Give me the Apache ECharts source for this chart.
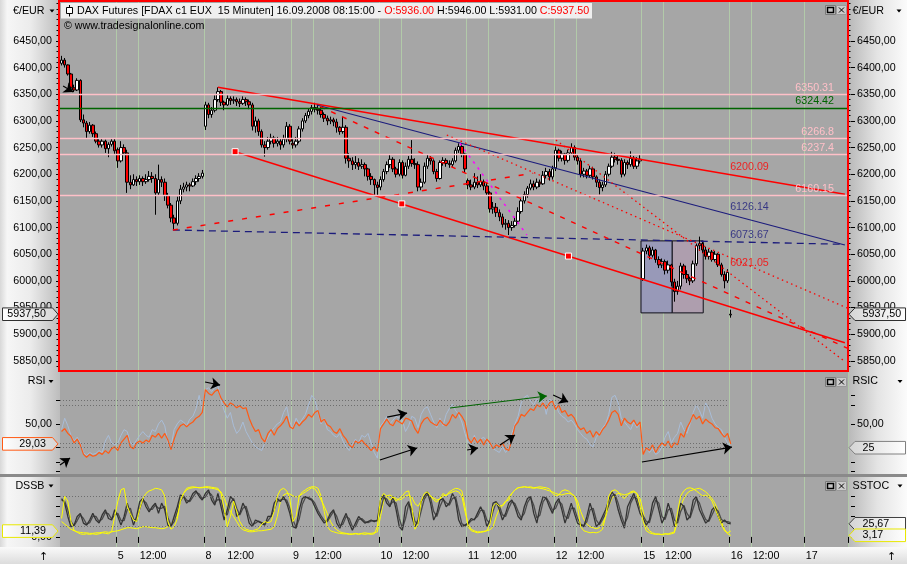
<!DOCTYPE html>
<html>
<head>
<meta charset="utf-8">
<title>DAX Futures FDAX 15 Minuten</title>
<script src="https://cdn.jsdelivr.net/npm/echarts@6.0.0/dist/echarts.min.js"></script>
<style>
html,body{margin:0;padding:0;background:#ffffff;overflow:hidden;}
#chart{width:907px;height:564px;}
</style>
</head>
<body>
<div id="chart"></div>
<script>
// ================= DATA (30-minute bars) =================
const dayNames      = ['4','5','8','9','10','11','12','15','16','17'];
const dayBarCounts  = [18, 28, 28, 28, 28, 28, 28, 28, 24, 14];
const dayStartTimes = ['13:30','08:30','08:30','08:30','08:30','08:30','08:30','08:30','08:30','08:30'];

const opens = [
6408,6414,6405,6388,6362,6358,6376,6302,6296,6280,6292,6276,6262,6255,6262,6248,6256,6262,
6246,6225,6250,6240,6185,6180,6190,6186,6192,6186,6190,6196,6192,6165,6190,6185,6160,6142,6118,6108,6150,6172,6176,6180,6178,6186,6192,6196,
6290,6330,6312,6320,6340,6355,6335,6330,6342,6338,6340,6336,6333,6340,6336,6330,6290,6300,6280,6255,6250,6262,6268,6258,6262,6255,6266,6290,
6258,6255,6262,6285,6300,6310,6318,6325,6322,6320,6312,6305,6300,6302,6298,6288,6280,6288,6230,6225,6218,6222,6215,6218,6210,6196,6190,6180,
6176,6190,6205,6218,6228,6210,6200,6222,6198,6215,6228,6220,6218,6176,6185,6215,6230,6225,6205,6192,6222,6226,6220,6218,6225,6245,6252,6238,
6188,6180,6176,6185,6180,6186,6178,6165,6135,6138,6128,6120,6106,6108,6100,6104,6112,6130,6150,6162,6174,6182,6176,6185,6182,6198,6205,6195,
6212,6245,6230,6238,6226,6240,6250,6232,6225,6200,6206,6198,6210,6195,6185,6175,6180,6200,6215,6232,6228,6226,6200,6222,6218,6230,6215,6225,
6004,6056,6062,6048,6058,6040,6030,6036,6020,6030,5998,5980,5990,6028,6012,6004,6000,6032,6066,6070,6058,6046,6054,6040,6050,6030,6012,6000,
5936
];
const closes = [
6414,6405,6388,6362,6358,6376,6302,6296,6280,6292,6276,6262,6255,6262,6248,6256,6262,6244,
6225,6250,6240,6185,6180,6190,6186,6192,6186,6190,6196,6192,6165,6190,6185,6160,6142,6118,6108,6150,6172,6176,6180,6178,6186,6192,6196,6202,
6330,6312,6320,6340,6355,6335,6330,6342,6338,6340,6336,6333,6340,6336,6330,6290,6300,6280,6255,6250,6262,6268,6258,6262,6255,6266,6290,6262,
6255,6262,6285,6300,6310,6318,6325,6322,6320,6312,6305,6300,6302,6298,6288,6280,6288,6230,6225,6218,6222,6215,6218,6210,6196,6190,6180,6175,
6190,6205,6218,6228,6210,6200,6222,6198,6215,6228,6220,6218,6176,6185,6215,6230,6225,6205,6192,6222,6226,6220,6218,6225,6245,6252,6238,6210,
6180,6176,6185,6180,6186,6178,6165,6135,6138,6128,6120,6106,6108,6100,6104,6112,6130,6150,6162,6174,6182,6176,6185,6182,6198,6205,6195,6210,
6245,6230,6238,6226,6240,6250,6232,6225,6200,6206,6198,6210,6195,6185,6175,6180,6200,6215,6232,6228,6226,6200,6222,6218,6230,6215,6225,6228,
6056,6062,6048,6058,6040,6030,6036,6020,6030,5998,5980,5990,6028,6012,6004,6000,6032,6066,6070,6058,6046,6054,6040,6050,6030,6012,6000,6016,
5937.5
];
const highs = [
6422,6418,6406,6390,6368,6380,6378,6312,6300,6298,6294,6280,6266,6268,6265,6260,6268,6266,
6250,6262,6256,6246,6198,6200,6196,6198,6196,6200,6206,6204,6200,6218,6196,6192,6165,6146,6124,6158,6180,6184,6186,6184,6192,6198,6202,6208,
6336,6334,6326,6348,6363,6358,6338,6348,6346,6346,6344,6342,6346,6344,6340,6334,6308,6304,6284,6262,6270,6276,6272,6270,6266,6274,6298,6294,
6266,6270,6290,6305,6315,6324,6330,6334,6330,6326,6316,6310,6308,6306,6304,6290,6308,6292,6240,6232,6234,6230,6228,6222,6212,6202,6192,6186,
6196,6210,6224,6236,6232,6214,6228,6226,6222,6234,6264,6230,6224,6192,6222,6236,6234,6228,6210,6226,6232,6230,6226,6230,6250,6258,6256,6240,
6192,6190,6202,6196,6200,6190,6184,6168,6148,6146,6134,6126,6116,6114,6112,6120,6138,6156,6168,6178,6190,6188,6192,6190,6206,6212,6210,6216,
6252,6248,6244,6240,6246,6258,6254,6238,6230,6212,6210,6216,6214,6198,6190,6186,6206,6220,6242,6240,6236,6230,6228,6226,6243,6234,6232,6236,
6062,6068,6066,6064,6060,6046,6042,6040,6038,6032,6004,6000,6034,6032,6020,6008,6038,6070,6083,6074,6064,6060,6058,6056,6052,6034,6018,6022,
5946
];
const lows = [
6404,6400,6385,6356,6354,6356,6298,6288,6268,6276,6270,6258,6250,6250,6240,6232,6252,6238,
6212,6222,6236,6165,6172,6178,6178,6180,6178,6182,6186,6184,6124,6160,6176,6150,6136,6110,6095,6104,6144,6166,6168,6168,6176,6180,6186,6192,
6283,6305,6306,6316,6336,6328,6320,6328,6330,6332,6328,6326,6330,6328,6322,6282,6278,6272,6250,6233,6246,6256,6250,6252,6246,6250,6260,6256,
6248,6250,6258,6280,6296,6305,6312,6316,6312,6306,6298,6292,6294,6290,6278,6274,6276,6220,6212,6208,6210,6208,6210,6196,6188,6180,6160,6158,
6170,6186,6200,6212,6204,6194,6196,6192,6196,6210,6214,6210,6168,6170,6182,6210,6218,6200,6186,6190,6216,6214,6212,6214,6222,6240,6232,6204,
6172,6170,6172,6174,6176,6170,6160,6128,6126,6120,6112,6100,6096,6086,6094,6100,6108,6126,6145,6156,6170,6170,6172,6176,6180,6192,6188,6190,
6206,6224,6224,6218,6222,6236,6226,6218,6194,6194,6192,6194,6190,6176,6162,6168,6176,6196,6212,6222,6218,6194,6196,6210,6214,6210,6210,6220,
6000,6050,6040,6044,6034,6024,6024,6012,6014,5990,5961,5974,5984,6004,5996,5992,5996,6028,6056,6052,6040,6040,6036,6036,6026,6008,5986,5996,
5931
];

// RSI pane (orange RSI and light-blue fast RSI)
const rsiMain = [
42,45,40,37,30,34,28,18,15,18,16,17,20,18,22,19,24,26,
22,30,34,38,26,24,30,32,30,33,31,38,36,40,35,40,33,23,34,43,48,50,47,50,52,56,58,62,
86,82,80,84,86,77,72,68,72,70,67,69,66,67,56,48,42,44,35,31,40,44,38,45,48,52,58,47,
45,52,48,52,55,60,57,62,64,52,55,49,47,42,40,45,38,34,28,25,32,30,33,29,26,22,26,21,
45,50,55,50,48,54,52,50,56,55,53,45,40,50,55,57,52,50,48,54,50,48,52,60,56,62,58,52,
35,30,36,30,34,28,34,30,24,28,26,30,24,22,34,48,52,60,58,62,66,64,70,68,72,66,72,74,
65,70,62,64,58,60,56,48,44,46,40,43,36,42,38,44,48,54,62,64,60,48,56,52,50,54,48,52,
18,25,22,28,20,26,30,27,32,25,30,28,40,36,46,52,60,55,58,50,55,52,50,46,45,40,36,40,
29.03
];
const rsiFast = [
44,56,48,38,32,36,30,20,17,20,18,19,22,20,32,38,30,28,
30,38,44,42,30,28,33,38,42,38,36,44,42,50,54,48,30,26,44,50,54,52,48,55,58,66,80,64,
86,88,84,88,90,75,64,56,62,48,40,44,52,42,36,30,26,24,22,30,36,42,46,50,52,62,68,52,
45,56,50,55,60,70,80,76,62,50,56,44,42,38,36,40,32,26,22,28,34,30,38,36,40,30,20,14,
48,52,58,50,54,58,56,54,42,48,58,56,46,60,66,68,60,52,46,56,48,60,66,71,64,60,52,40,
30,28,38,30,34,36,32,28,24,22,20,26,20,24,40,50,58,72,78,80,74,70,76,72,76,60,76,74,
70,62,58,56,52,54,50,44,40,36,34,28,26,36,40,46,50,60,78,80,72,56,52,48,44,52,46,50,
22,26,20,24,18,20,26,36,42,30,36,40,52,44,40,50,62,70,64,56,72,66,56,50,46,44,36,30,
26
];
const rsicLevel = 25;

// DSSB / SSTOC pane (two dark lines, two yellow lines)
const dssbMain = [
75,66,40,20,23,40,46,27,23,33,46,33,27,43,53,36,33,53,
40,23,40,66,46,23,40,69,75,59,49,59,66,46,66,53,23,20,40,59,82,79,66,72,85,90,79,72,
85,92,72,62,85,59,33,53,79,72,40,46,66,53,27,20,33,30,27,23,40,40,66,75,69,79,66,46,
20,17,53,75,79,75,72,59,46,36,27,33,46,53,27,17,33,46,27,13,27,40,33,27,30,33,30,33,
72,82,66,59,79,53,20,13,59,69,40,20,33,69,79,88,66,33,46,72,75,59,66,85,72,33,20,23,
27,36,33,46,59,46,20,33,66,69,53,33,46,66,72,59,40,33,59,75,79,46,27,59,79,75,59,46,
66,75,53,27,46,66,46,27,23,20,40,66,46,20,27,40,53,72,88,79,53,33,17,59,72,85,66,46,
36,23,33,66,79,53,27,40,66,46,20,33,66,59,33,40,72,79,53,40,27,33,53,59,40,27,33,27,
25.67
];
const dssbSignal = [
72,70,53,30,22,32,43,36,25,28,40,40,30,35,48,45,35,43,
46,32,32,53,56,35,32,55,72,67,54,54,62,56,56,60,38,22,30,50,70,80,72,69,78,87,84,75,
78,88,82,67,73,72,46,43,66,75,56,43,56,60,40,24,27,31,28,25,32,40,53,70,72,74,72,56,
33,19,35,64,77,77,74,66,52,41,32,30,40,50,40,22,25,40,36,20,20,34,36,30,28,31,32,31,
52,77,74,62,69,66,36,17,36,64,54,30,26,51,74,83,77,50,40,59,73,67,62,75,78,52,26,22,
25,32,35,40,52,52,33,27,50,68,61,43,40,56,69,65,50,37,46,67,77,62,37,43,69,77,67,52,
56,70,64,40,36,56,56,36,25,22,30,53,56,33,24,34,46,62,80,83,66,43,25,38,66,78,75,56,
41,30,28,50,72,66,40,34,53,56,33,27,50,62,46,37,56,75,66,47,34,30,43,56,50,34,30,30,
28
];
const sstocFast = [
36,79,70,30,13,9,6,5,6,5,6,5,6,8,7,6,10,40,
70,92,95,60,45,33,30,55,75,85,90,92,95,94,92,80,30,15,20,35,70,85,95,97,98,97,96,97,
98,98,97,96,95,85,55,20,40,70,50,30,20,15,13,12,14,16,25,30,28,30,50,80,92,95,90,75,
30,40,80,88,92,96,98,98,95,80,50,20,12,10,8,7,6,6,5,5,6,5,6,5,6,5,6,20,
75,85,80,72,78,70,75,80,88,90,60,15,25,70,85,88,80,72,68,75,85,80,88,92,95,94,90,60,
20,12,10,8,9,10,12,25,60,66,60,62,70,72,85,92,96,97,98,97,98,96,97,98,97,96,94,85,
80,82,90,92,90,85,80,60,20,12,10,8,9,8,10,15,40,80,90,92,88,80,75,82,88,90,85,60,
30,12,8,6,5,6,4,6,5,6,8,50,80,90,95,96,94,90,85,80,82,78,70,55,40,25,12,8,
11.39
];
const sstocSlow = [
30,25,20,15,12,10,9,8,8,7,7,8,8,9,10,9,10,11,
12,14,16,18,18,17,16,18,20,20,19,18,18,17,16,17,20,25,33,40,70,85,92,95,96,97,96,96,
97,96,95,94,92,88,75,60,50,40,30,20,14,12,10,10,11,12,12,13,14,15,20,40,70,82,85,84,
80,78,80,84,88,92,96,94,85,72,60,45,30,20,14,10,8,7,6,6,7,6,7,8,7,7,8,10,
40,70,80,82,78,75,72,75,80,82,78,65,60,70,78,82,80,76,72,74,80,82,85,88,90,88,80,50,
25,15,12,10,10,11,12,14,20,40,55,60,68,78,85,92,96,97,98,97,96,95,96,95,94,92,90,88,
85,83,82,84,85,84,80,70,50,35,25,20,18,16,18,25,40,60,75,82,85,84,82,84,86,88,85,75,
50,20,12,8,6,5,5,6,6,8,10,30,60,75,85,90,92,94,95,92,88,82,75,65,50,30,15,6,
3.17
];

// Axis tick labels
const priceTicks = [5850,5900,5950,6000,6050,6100,6150,6200,6250,6300,6350,6400,6450];
const rsiLabelTicks = [50];
const rsiLeftTicks = [0,10,25,50,75];
const rsiRightTicks = [0,10,25,50,70,80];
const dssbLabelTicks = [0];
const dssbTicks = [0,40,60,80];

// Horizontal levels, indicator levels
const levelValues = [6350.31, 6324.42, 6266.8, 6237.4, 6160.15];
const rsiLevels = [25, 30, 70, 75];
const dssbLevels = [20, 80];

// Drawn trend lines: [bar from, price from, bar to, price to]  (bar = 30-min bar position)
const trendlines = [
  [50.5, 6363.0, 251.0, 6162.4],
  [82.1, 6329.8, 251.0, 6067.3],
  [56.0, 6242.3, 251.0, 5884.0],
  [36.1, 6095.4, 251.0, 6068.6],
  [36.1, 6095.4, 151.3, 6201.8],
  [83.2, 6326.7, 251.7, 5874.1],
  [123.7, 6273.6, 251.7, 5949.2],
  [158.6, 6264.2, 251.0, 5848.8],
  [127.9, 6258.0, 149.3, 6086.1]
];
const lineLabelValues = [6200.09, 6126.14, 6073.67, 6021.05];
const handlePts = [[56.0, 6242.3], [109.3, 6144.4], [162.6, 6046.5]];
const boxBars = [[185.8, 195.8], [195.8, 205.7]];
const boxPrices = [6075, 5940];
const mainArrows = [[1.0, 6365.5, 4.2, 6354.2]];
const rsiArrows = [
  [0.0, 6.8, 3.2, 14.2],
  [46.4, 94.0, 51.2, 90.8],
  [104.6, 57.2, 111.0, 61.4],
  [102.3, 12.1, 114.2, 24.7],
  [124.7, 66.7, 155.7, 79.3],
  [157.7, 80.3, 162.5, 73.0],
  [130.2, 22.6, 133.7, 24.7],
  [140.7, 27.8, 145.5, 38.4],
  [186.1, 10.0, 214.9, 25.7]
];

// ================= BUILD =================
const FONT = 'Liberation Sans';
const FS = 10.7;
const N = closes.length;
const cats = [], xLabels = [];
dayNames.forEach((d, di) => {
  const [h, m] = dayStartTimes[di].split(':').map(Number);
  for (let k = 0; k < dayBarCounts[di]; k++) {
    const t = h * 60 + m + 30 * k;
    const hm = String(Math.floor(t / 60)).padStart(2, '0') + ':' + String(t % 60).padStart(2, '0');
    cats.push(d + ' ' + hm);
    xLabels.push(k === 0 && di > 0 ? d : (hm === '12:00' ? '12:00' : ''));
  }
});
const NB = cats.length;
// a time label that would not fit before the right edge is not drawn
for (let i = NB - 9; i < NB; i++) if (xLabels[i] === '12:00') xLabels[i] = '';
const candle = closes.map((c, i) => [opens[i], c, lows[i], highs[i]]);
const comma = v => v.toFixed(2).replace('.', ',');
const markFn = (i) => xLabels[i] !== '';

const RED = '#ff0000', NAVY = '#1c1c7c', PINK = '#ffc0c8', GREEN = '#006400';
const ORANGE = '#ff5a14', LBLUE = '#a9bdd8', YEL = '#ffff00', DARK = '#333333';

function catAxis(gi, showLabels) {
  return {
    type: 'category', gridIndex: gi, data: cats, boundaryGap: true,
    axisLine: { show: false },
    axisTick: { show: showLabels, interval: markFn, length: 6, lineStyle: { color: '#000' } },
    axisLabel: { show: showLabels, interval: markFn, formatter: (v, i) => xLabels[i], align: 'left',
                 margin: 4, color: '#000', fontFamily: FONT, fontSize: FS },
    splitLine: { show: true, interval: markFn, lineStyle: { color: '#b2caa9', width: 1 } }
  };
}
function ovAxis(gi) { return { type: 'value', gridIndex: gi, min: 0, max: NB, show: false }; }
function yAx(gi, min, max, pos, offset, tickVals, tickLen, labelVals) {
  return {
    type: 'value', gridIndex: gi, min, max, position: pos, offset,
    axisLine: { show: false }, splitLine: { show: false },
    axisTick: { show: true, customValues: tickVals, length: tickLen, lineStyle: { color: '#000', width: 1 } },
    axisLabel: labelVals ? { show: true, customValues: labelVals, formatter: comma, margin: 6,
                             color: '#000', fontFamily: FONT, fontSize: FS }
                         : { show: false }
  };
}
const P_MIN = 5831, P_MAX = 6523, R_MIN = -2.6, R_MAX = 104.5, D_MIN = -19.7, D_MAX = 117.1;
const priceMinor = [];
for (let v = 5840; v <= 6520; v += 10) priceMinor.push(v);

const series = [];
// rectangles (boxes)
series.push({ type: 'line', xAxisIndex: 3, yAxisIndex: 0, data: [], z: 1, silent: true,
  markArea: { silent: true, data: boxBars.map((b, i) => [
    { coord: [b[0], boxPrices[0]], itemStyle: { color: i ? '#ae9eae' : '#9899b8', borderColor: '#10101a', borderWidth: 1, opacity: 1 } },
    { coord: [b[1], boxPrices[1]] }]) } });
// horizontal levels
series.push({ type: 'line', xAxisIndex: 3, yAxisIndex: 0, data: [], z: 2, silent: true,
  markLine: { silent: true, symbol: ['none', 'none'], animation: false,
    data: levelValues.map((v, i) => ({ yAxis: v,
      lineStyle: { color: i === 1 ? GREEN : PINK, width: 1.3, type: 'solid' },
      label: { show: true, position: 'insideEndTop', distance: [14, 1], formatter: String(v),
               color: i === 1 ? GREEN : PINK, fontFamily: FONT, fontSize: FS } })) } });
// candles
series.push({ type: 'candlestick', xAxisIndex: 0, yAxisIndex: 0, data: candle, barWidth: 3, z: 3, silent: true,
  itemStyle: { color: '#ffffff', color0: '#ff0000', borderColor: '#000000', borderColor0: '#000000', borderWidth: 1 } });
// trend lines
const trendStyles = [
  { color: RED, width: 1.5, type: 'solid' },
  { color: NAVY, width: 1.2, type: 'solid' },
  { color: RED, width: 1.5, type: 'solid' },
  { color: NAVY, width: 1.3, type: [7, 5] },
  { color: RED, width: 1.5, type: [5, 9] },
  { color: RED, width: 1.4, type: [5, 7] },
  { color: RED, width: 1.3, type: [1.5, 3.5] },
  { color: RED, width: 1.3, type: [1.5, 3.5] },
  { color: '#ff00ff', width: 1.5, type: [2.5, 5] }
];
trendlines.forEach((t, i) => series.push({ type: 'line', xAxisIndex: 3, yAxisIndex: 0, z: 4, silent: true,
  data: [[t[0], t[1]], [t[2], t[3]]], symbol: 'none', lineStyle: trendStyles[i] }));
// handles
series.push({ type: 'scatter', xAxisIndex: 3, yAxisIndex: 0, data: handlePts, symbol: 'rect', symbolSize: 6, z: 5, silent: true,
  itemStyle: { color: RED, borderColor: '#ffffff', borderWidth: 1, opacity: 1 } });
// values of the trend lines at the current bar
const lblColors = [RED, NAVY, NAVY, RED];
series.push({ type: 'scatter', xAxisIndex: 3, yAxisIndex: 0, symbolSize: 0, z: 6, silent: true,
  data: lineLabelValues.map((v, i) => ({ value: [N - 1, v], label: { color: lblColors[i] } })),
  label: { show: true, position: 'right', distance: 1, offset: [0, -7], formatter: p => p.value[1].toFixed(2),
           fontFamily: FONT, fontSize: FS } });
// main arrow
series.push({ type: 'line', xAxisIndex: 3, yAxisIndex: 0, data: [], z: 6, silent: true,
  markLine: { silent: true, symbol: ['none', 'arrow'], symbolSize: 9, label: { show: false },
    lineStyle: { color: '#000', width: 1.2, type: 'solid' },
    data: mainArrows.map(a => [{ coord: [a[0], a[1]] }, { coord: [a[2], a[3]] }]) } });
// RSI pane
series.push({ type: 'line', xAxisIndex: 4, yAxisIndex: 4, data: [], z: 1, silent: true,
  markLine: { silent: true, symbol: ['none', 'none'], label: { show: false },
    lineStyle: { color: '#6e6e6e', width: 1, type: [1, 2] },
    data: rsiLevels.map(v => [{ coord: [0, v] }, { coord: [N - 1.5, v] }]) } });
series.push({ type: 'line', xAxisIndex: 1, yAxisIndex: 4, data: rsiFast, symbol: 'none', z: 2, silent: true,
  lineStyle: { color: LBLUE, width: 1 } });
series.push({ type: 'line', xAxisIndex: 1, yAxisIndex: 4, data: rsiMain, symbol: 'none', z: 3, silent: true,
  lineStyle: { color: ORANGE, width: 1.2 } });
series.push({ type: 'line', xAxisIndex: 4, yAxisIndex: 4, data: [], z: 4, silent: true,
  markLine: { silent: true, symbol: ['none', 'arrow'], symbolSize: 9, label: { show: false },
    lineStyle: { color: '#000', width: 1, type: 'solid' },
    data: rsiArrows.map((a, i) => [{ coord: [a[0], a[1]], lineStyle: { color: i === 4 ? GREEN : '#000', width: 1.2, type: 'solid' } },
                                   { coord: [a[2], a[3]] }]) } });
// DSSB pane
series.push({ type: 'line', xAxisIndex: 5, yAxisIndex: 6, data: [], z: 1, silent: true,
  markLine: { silent: true, symbol: ['none', 'none'], label: { show: false },
    lineStyle: { color: '#6e6e6e', width: 1, type: [1, 2] },
    data: dssbLevels.map(v => [{ coord: [0, v] }, { coord: [N - 1.5, v] }]) } });
series.push({ type: 'line', xAxisIndex: 2, yAxisIndex: 6, data: sstocSlow, symbol: 'none', z: 2, silent: true,
  lineStyle: { color: YEL, width: 1 } });
series.push({ type: 'line', xAxisIndex: 2, yAxisIndex: 6, data: dssbSignal, symbol: 'none', z: 3, silent: true,
  lineStyle: { color: '#4a4a4a', width: 1.3 } });
series.push({ type: 'line', xAxisIndex: 2, yAxisIndex: 6, data: dssbMain, symbol: 'none', z: 3, silent: true,
  lineStyle: { color: DARK, width: 1.3 } });
series.push({ type: 'line', xAxisIndex: 2, yAxisIndex: 6, data: sstocFast, symbol: 'none', z: 4, silent: true,
  lineStyle: { color: YEL, width: 1 } });

const option = {
  animation: false,
  backgroundColor: '#d0d0d0',
  grid: [
    { left: 60, right: 59, top: 2, height: 369 },
    { left: 60, right: 59, top: 372, height: 102 },
    { left: 60, right: 59, top: 477, height: 70 }
  ],
  xAxis: [catAxis(0, false), catAxis(1, false), catAxis(2, true), ovAxis(0), ovAxis(1), ovAxis(2)],
  yAxis: [
    yAx(0, P_MIN, P_MAX, 'left', 2, priceTicks, 4, priceTicks),
    yAx(0, P_MIN, P_MAX, 'left', 2, priceMinor, 1.5, null),
    yAx(0, P_MIN, P_MAX, 'right', 3, priceTicks, 4, priceTicks),
    yAx(0, P_MIN, P_MAX, 'right', 1, priceMinor, 1.5, null),
    yAx(1, R_MIN, R_MAX, 'left', 2, rsiLeftTicks, 4, rsiLabelTicks),
    yAx(1, R_MIN, R_MAX, 'right', 3, rsiRightTicks, 4, rsiLabelTicks),
    yAx(2, D_MIN, D_MAX, 'left', 2, dssbTicks, 4, dssbLabelTicks),
    yAx(2, D_MIN, D_MAX, 'right', 3, dssbTicks, 4, null)
  ],
  series
};

const chart = echarts.init(document.getElementById('chart'), null, { renderer: 'canvas' });
chart.setOption(option);

// ================= FRAME, TITLES AND VALUE TAGS =================
function grad(x1, y1, x2, y2, stops) {
  return { type: 'linear', x: x1, y: y1, x2: x2, y2: y2, global: false,
           colorStops: stops.map(s => ({ offset: s[0], color: s[1] })) };
}
const txt = (x, y, text, extra) => Object.assign({ type: 'text', x, y, z: 120, silent: true,
  style: Object.assign({ text, fill: '#000', fontFamily: FONT, fontSize: FS, verticalAlign: 'middle' }, (extra || {})) });
const tri = (x, y) => ({ type: 'polygon', z: 120, silent: true,
  shape: { points: [[x, y], [x + 5, y], [x + 2.5, y + 3]] }, style: { fill: '#000' } });
function icons(y) {
  return [
    { type: 'rect', z: 120, silent: true, shape: { x: 825.5, y: y + 0.5, width: 10, height: 9 }, style: { fill: '#c4c4c4', stroke: '#7a7a7a', lineWidth: 1 } },
    { type: 'rect', z: 121, silent: true, shape: { x: 827.5, y: y + 2.5, width: 6, height: 5 }, style: { fill: 'none', stroke: '#000', lineWidth: 1.5 } },
    { type: 'rect', z: 120, silent: true, shape: { x: 836.5, y: y + 0.5, width: 10, height: 9 }, style: { fill: '#cccccc', stroke: '#9a9a9a', lineWidth: 1 } },
    { type: 'line', z: 121, silent: true, shape: { x1: 839, y1: y + 2.5, x2: 844, y2: y + 7.5 }, style: { stroke: '#000', lineWidth: 1 } },
    { type: 'line', z: 121, silent: true, shape: { x1: 844, y1: y + 2.5, x2: 839, y2: y + 7.5 }, style: { stroke: '#000', lineWidth: 1 } }
  ];
}
function tag(side, y, text, border, fill) {
  const h = 6.3;
  const pts = side === 'L'
    ? [[2.5, y - h], [52.5, y - h], [58, y], [52.5, y + h], [2.5, y + h]]
    : [[849, y], [855, y - h], [905.5, y - h], [905.5, y + h], [855, y + h]];
  return [
    { type: 'polygon', z: 130, silent: true, shape: { points: pts }, style: { fill, stroke: border, lineWidth: 1 } },
    side === 'L' ? txt(46, y, text, { align: 'right' }) : txt(862.5, y, text, { align: 'left' })
  ].map(e => { e.z = e.type === 'text' ? 131 : 130; return e; });
}
const pxY = (ai, v) => chart.convertToPixel({ yAxisIndex: ai }, v);
const last = N - 1;
const tagFillL = grad(0, 0, 1, 0, [[0, '#ffffff'], [1, '#d4d4d4']]);
const tagFillR = grad(0, 0, 1, 0, [[0, '#d4d4d4'], [1, '#ffffff']]);

const g = [];
// backgrounds
g.push({ type: 'rect', z: -100, silent: true, shape: { x: 0, y: 0, width: 60, height: 547 },
  style: { fill: grad(0, 0, 1, 0, [[0, '#d8d8d8'], [0.12, '#f6f6f6'], [0.5, '#ececec'], [1, '#bcbcbc']]) } });
g.push({ type: 'rect', z: -100, silent: true, shape: { x: 848, y: 0, width: 59, height: 547 },
  style: { fill: grad(0, 0, 1, 0, [[0, '#b8b8b8'], [0.5, '#e4e4e4'], [1, '#fbfbfb']]) } });
g.push({ type: 'rect', z: -100, silent: true, shape: { x: 0, y: 547, width: 907, height: 17 },
  style: { fill: grad(0, 0, 0, 1, [[0, '#fafafa'], [1, '#dcdcdc']]) } });
g.push({ type: 'rect', z: -99, silent: true, shape: { x: 60, y: 0, width: 788, height: 547 }, style: { fill: '#a6a6a6' } });
g.push({ type: 'rect', z: 90, silent: true, shape: { x: 0, y: 474, width: 907, height: 3 }, style: { fill: '#8a8a8a' } });
// red frame of the active pane
g.push({ type: 'rect', z: 110, silent: true, shape: { x: 59, y: 1, width: 789, height: 370 },
  style: { fill: 'none', stroke: '#ff0000', lineWidth: 2 } });
// title bar
g.push({ type: 'rect', z: 115, silent: true, shape: { x: 61, y: 3, width: 531, height: 15.5 }, style: { fill: '#efefef' } });
g.push({ type: 'line', z: 120, silent: true, shape: { x1: 69.5, y1: 5, x2: 69.5, y2: 16.5 }, style: { stroke: '#000', lineWidth: 1 } });
g.push({ type: 'rect', z: 121, silent: true, shape: { x: 66.5, y: 7.5, width: 6, height: 6 }, style: { fill: '#ffffff', stroke: '#000', lineWidth: 1 } });
const f2 = v => v.toFixed(2);
g.push({ type: 'text', x: 77, y: 11, z: 120, silent: true, style: {
  text: '{k|DAX Futures [FDAX c1 EUX  15 Minuten] 16.09.2008 08:15:00 - }{r|O:' + f2(opens[last]) + '}{k| H:' + f2(highs[last]) +
        ' L:' + f2(lows[last]) + ' }{r|C:' + f2(closes[last]) + '}',
  fontFamily: FONT, fontSize: FS, verticalAlign: 'middle',
  rich: { k: { fill: '#000', fontFamily: FONT, fontSize: FS }, r: { fill: '#ff0000', fontFamily: FONT, fontSize: FS } } } });
g.push(txt(64, 26, '© www.tradesignalonline.com'));
g.push(...icons(5), ...icons(377), ...icons(481));
// pane names
g.push(txt(44.5, 11, '€/EUR', { align: 'right' }), tri(49.5, 9.5));
g.push(txt(852.5, 11, '€/EUR', { align: 'left' }), tri(896.5, 9.5));
g.push(txt(45.5, 381, 'RSI', { align: 'right' }), tri(48.5, 380));
g.push(txt(852.5, 381, 'RSIC', { align: 'left' }), tri(897.5, 380));
g.push(txt(44.5, 486, 'DSSB', { align: 'right' }), tri(48.5, 484.5));
g.push(txt(852.5, 486, 'SSTOC', { align: 'left' }), tri(897.5, 484.5));
g.push(txt(43.5, 557, '↑', { align: 'center', fontFamily: 'DejaVu Sans', fontSize: 11 }));
g.push(txt(891.5, 557, '↑', { align: 'center', fontFamily: 'DejaVu Sans', fontSize: 11 }));
// value tags
g.push(...tag('L', pxY(0, closes[last]), comma(closes[last]), '#303030', tagFillL));
g.push(...tag('R', pxY(2, closes[last]), comma(closes[last]), '#303030', tagFillR));
g.push(...tag('L', pxY(4, rsiMain[last]), comma(rsiMain[last]), ORANGE, tagFillL));
g.push(...tag('R', pxY(5, rsicLevel), String(rsicLevel), '#808080', tagFillR));
g.push(...tag('L', pxY(6, sstocFast[last]), comma(sstocFast[last]), '#e8e800', tagFillL));
g.push(...tag('R', pxY(7, dssbMain[last]), comma(dssbMain[last]), '#404040', tagFillR));
g.push(...tag('R', pxY(7, sstocSlow[last]), comma(sstocSlow[last]), '#e8e800', tagFillR));

chart.setOption({ graphic: { elements: g } });
</script>
</body>
</html>
